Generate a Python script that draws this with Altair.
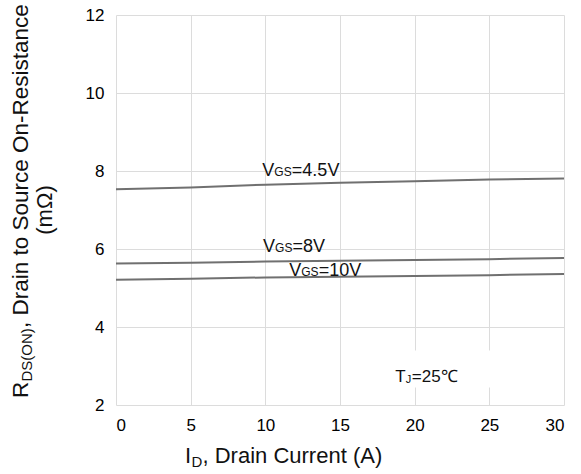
import altair as alt
import pandas as pd

# Drain current (A) and on-resistance (mOhm) for three gate drives
drain_current = [0, 5, 10, 15, 20, 25, 30]
r_vgs_4p5 = [7.53, 7.58, 7.65, 7.70, 7.74, 7.78, 7.81]
r_vgs_8 = [5.63, 5.65, 5.68, 5.70, 5.72, 5.74, 5.77]
r_vgs_10 = [5.21, 5.24, 5.27, 5.29, 5.31, 5.33, 5.36]

x_ticks = [0, 5, 10, 15, 20, 25, 30]
y_ticks = [2, 4, 6, 8, 10, 12]

# curve labels: main letter, subscript, remainder, anchor in data units
label_main = ["V", "V", "V"]
label_sub = ["GS", "GS", "GS"]
label_rest = ["=4.5V", "=8V", "=10V"]
label_x = [9.8, 9.85, 11.6]
label_y = [7.86, 5.93, 5.31]

FONT = "Liberation Sans"
W, H = 448, 390
LINE_COLOR = "#707070"

rows = []
for name, vals in [("4.5", r_vgs_4p5), ("8", r_vgs_8), ("10", r_vgs_10)]:
    for i, r in zip(drain_current, vals):
        rows.append({"series": name, "id": i, "r": r})
curves = pd.DataFrame(rows)

labels = pd.DataFrame({
    "main": label_main, "sub": label_sub, "rest": label_rest,
    "x": label_x, "y": label_y,
})

xs = alt.Scale(domain=[0, 30], nice=False)
ys = alt.Scale(domain=[2, 12], nice=False)

xaxis = alt.Axis(values=x_ticks, title=None, grid=True, domain=False, ticks=False,
                 labelPadding=12, labelFontSize=17, labelFont=FONT, labelColor="#000")
yaxis = alt.Axis(values=y_ticks, title=None, grid=True, domain=False, ticks=False,
                 labelPadding=12, labelFontSize=17, labelFont=FONT, labelColor="#000")

lines = alt.Chart(curves).mark_line(color=LINE_COLOR, strokeWidth=2).encode(
    x=alt.X("id:Q", scale=xs, axis=xaxis),
    y=alt.Y("r:Q", scale=ys, axis=yaxis),
    detail="series:N",
)

def piece(field, size, dx, dy=0):
    return alt.Chart(labels).mark_text(
        font=FONT, fontSize=size, align="left", baseline="alphabetic",
        color="#111", dx=dx, dy=dy,
    ).encode(x=alt.X("x:Q", scale=xs), y=alt.Y("y:Q", scale=ys), text=f"{field}:N")

lab_main = piece("main", 18, 0)
lab_sub = piece("sub", 12, 12)
lab_rest = piece("rest", 18, 29.5)

# temperature note on a white patch
tj = pd.DataFrame({"x": [18.7], "y": [2.59], "x0": [18.0], "x1": [25.8], "y0": [2.45], "y1": [3.4]})
tj_box = alt.Chart(tj).mark_rect(color="white").encode(
    x=alt.X("x0:Q", scale=xs), x2="x1:Q", y=alt.Y("y0:Q", scale=ys), y2="y1:Q")

def tj_piece(txt, size, dx, dy=0):
    return alt.Chart(tj).mark_text(
        font=FONT, fontSize=size, align="left", baseline="alphabetic",
        color="#111", dx=dx, dy=dy, text=txt,
    ).encode(x=alt.X("x:Q", scale=xs), y=alt.Y("y:Q", scale=ys))

tj_t = tj_piece("T", 17, 0)
tj_j = tj_piece("J", 11, 10.5, 1)
tj_rest = tj_piece("=25\u2103", 17, 16.5)

# axis titles with subscripts, placed relative to the plot area
def title_piece(txt, size, px, py, angle=0):
    return alt.Chart(pd.DataFrame({"a": [0]})).mark_text(
        font=FONT, fontSize=size, align="left", baseline="alphabetic",
        color="#111", angle=angle, text=txt,
    ).encode(x=alt.value(px), y=alt.value(py))

xt_base_x, xt_base_y = 69, 448
x_title = (
    title_piece("I", 22, xt_base_x, xt_base_y)
    + title_piece("D", 15, xt_base_x + 6.5, xt_base_y + 4)
    + title_piece(", Drain Current (A)", 22, xt_base_x + 17.5, xt_base_y)
)

yt_x, yt_y = -88, 383
y_title = (
    title_piece("R", 22.5, yt_x, yt_y, 270)
    + title_piece("DS(ON)", 15, yt_x + 4, yt_y - 16.5, 270)
    + title_piece(", Drain to Source On-Resistance", 22.5, yt_x, yt_y - 70, 270)
    + alt.Chart(pd.DataFrame({"a": [0]})).mark_text(
        font=FONT, fontSize=22, align="center", baseline="alphabetic",
        color="#111", angle=270, text="(m\u03a9)",
    ).encode(x=alt.value(-64), y=alt.value(195))
)

chart = (
    lines + lab_main + lab_sub + lab_rest + tj_box + tj_t + tj_j + tj_rest + x_title + y_title
).properties(
    width=W, height=H,
    autosize=alt.AutoSizeParams(type="none"),
    padding={"left": 116, "top": 15, "right": 17, "bottom": 69},
    background="white",
).configure_view(stroke=None).configure_axis(
    gridColor="#dcdcdc", gridWidth=1
)

chart.save("out.html", embed_options={"renderer": "svg", "actions": False})
